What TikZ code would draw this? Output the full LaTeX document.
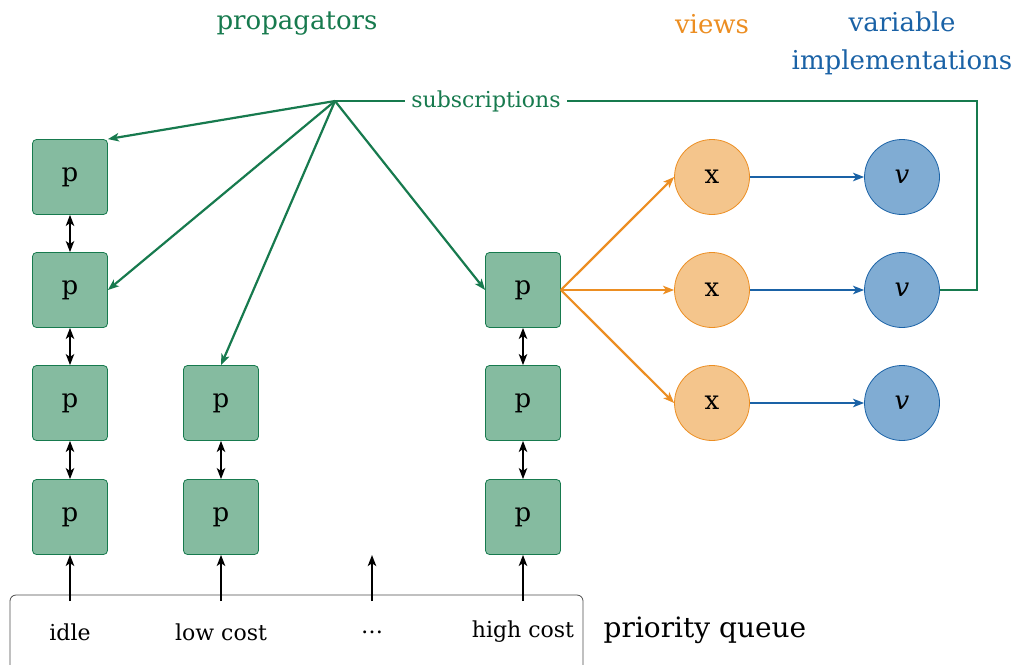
\documentclass[tikz,border=0pt]{standalone}
\usepackage{fontspec}
\setmainfont{DejaVu Serif}
\usetikzlibrary{arrows.meta}
\definecolor{propgreen}{HTML}{177A4E}
\definecolor{propfill}{HTML}{85BBA0}
\definecolor{vieworange}{HTML}{EC8E22}
\definecolor{viewfill}{HTML}{F4C58C}
\definecolor{varblue}{HTML}{1A62A6}
\definecolor{varfill}{HTML}{80ACD3}
\newcommand\labelfont{\fontsize{11}{13}\selectfont}
\newcommand\titlefont{\fontsize{13}{19}\selectfont}
\begin{document}
\begin{tikzpicture}[x=0.5pt,y=-0.5pt,>={Stealth[length=5.5pt,width=4.2pt,inset=1.4pt]},
  prop/.style={draw=propgreen,fill=propfill,rounded corners=2pt,minimum size=37.5pt,font=\titlefont},
  view/.style={circle,draw=vieworange,fill=viewfill,minimum size=37.5pt,inner sep=0pt,font=\titlefont},
  var/.style={circle,draw=varblue,fill=varfill,minimum size=37.5pt,inner sep=0pt,font=\titlefont},
  sub/.style={->,line width=1.1pt,propgreen},
  link/.style={<->,line width=0.8pt}]
\useasboundingbox (0,0) rectangle (1015,664);
% titles
\node[text=propgreen,font=\titlefont] (tprop) at (297,24) {propagators};
\node[text=vieworange,font=\titlefont] (tview) at (712,24) {views};
\node[text=varblue,font=\titlefont,align=center] (tvar) at (902,43) {variable\\implementations};
% propagators
\node[prop] (p11) at (70,177) {p};
\node[prop] (p12) at (70,290) {p};
\node[prop] (p13) at (70,403) {p};
\node[prop] (p14) at (70,517) {p};
\node[prop] (p23) at (221,403) {p};
\node[prop] (p24) at (221,517) {p};
\node[prop] (p32) at (523,290) {p};
\node[prop] (p33) at (523,403) {p};
\node[prop] (p34) at (523,517) {p};
\draw[link] (p11)--(p12);
\draw[link] (p12)--(p13);
\draw[link] (p13)--(p14);
\draw[link] (p23)--(p24);
\draw[link] (p32)--(p33);
\draw[link] (p33)--(p34);
% views and variables
\node[view] (x1) at (712,177) {x};
\node[view] (x2) at (712,290) {x};
\node[view] (x3) at (712,403) {x};
\node[var] (v1) at (902,177) {\textit{v}};
\node[var] (v2) at (902,290) {\textit{v}};
\node[var] (v3) at (902,403) {\textit{v}};
\draw[->,line width=1.1pt,vieworange] (p32.east)--(x1.west);
\draw[->,line width=1.1pt,vieworange] (p32.east)--(x2.west);
\draw[->,line width=1.1pt,vieworange] (p32.east)--(x3.west);
\draw[->,line width=1.1pt,varblue] (x1)--(v1);
\draw[->,line width=1.1pt,varblue] (x2)--(v2);
\draw[->,line width=1.1pt,varblue] (x3)--(v3);
% subscriptions
\coordinate (hub) at (335,101);
\coordinate (c1) at (977,101);
\coordinate (c2) at (977,290);
\draw[line width=1.1pt,propgreen] (v2.east)--(c2)--(c1)--(hub);
\node[text=propgreen,fill=white,font=\labelfont] (subs) at (486,101) {subscriptions};
\draw[sub] (hub)--(p11.north east);
\draw[sub] (hub)--(p12.east);
\draw[sub] (hub)--(p23.north);
\draw[sub] (hub)--(p32.west);
% priority queue
\draw[gray!60!black,rounded corners=3pt] (10,720) |- (583,595) -- (583,720);
\node[font=\labelfont] (q1) at (70,632) {idle};
\node[font=\labelfont] (q2) at (221,632) {low cost};
\node[font=\labelfont] (q3) at (372,632) {\dots};
\node[font=\labelfont] (q4) at (523,632) {high cost};
\node[font=\fontsize{14}{17}\selectfont] (pq) at (705,630) {priority queue};
\coordinate (a1) at (70,601);
\coordinate (a2) at (221,601);
\coordinate (a3) at (372,601);
\coordinate (b3) at (372,555);
\coordinate (a4) at (523,601);
\draw[->,line width=1.1pt] (a1)--(p14);
\draw[->,line width=1.1pt] (a2)--(p24);
\draw[->,line width=1.1pt] (a3)--(b3);
\draw[->,line width=1.1pt] (a4)--(p34);
\end{tikzpicture}
\end{document}
